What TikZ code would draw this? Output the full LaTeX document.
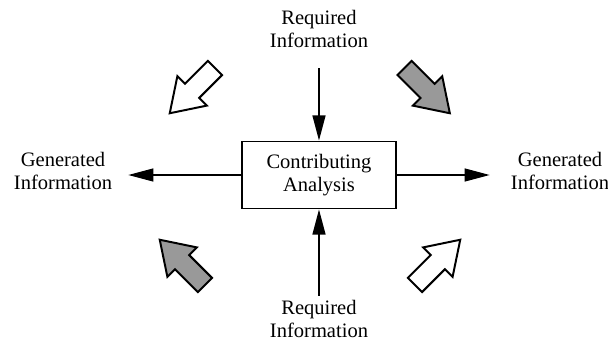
\documentclass[tikz,border=0pt]{standalone}
\usepackage{fontspec}
\setmainfont{Liberation Serif}
\usetikzlibrary{arrows.meta}
\definecolor{arrowgray}{RGB}{153,153,153}

% hollow block arrow: fill, tail x, tail y, angle
\newcommand*{\BlockArrow}[4]{%
   \begin{scope}[shift={(#2,#3)},rotate=#4]
     \filldraw[fill=#1, line width=1.4pt, line join=miter]
       (0,-0.25) -- (0.81,-0.25) -- (0.81,-0.52) -- (1.6,0)
       -- (0.81,0.52) -- (0.81,0.25) -- (0,0.25) -- cycle;
   \end{scope}}

\tikzset{
  infotext/.style={align=center, inner sep=0pt, font=\fontsize{14.6}{16.4}\selectfont},
  analysisbox/.style={draw, line width=1.4pt, align=center, minimum width=3.85cm,
    minimum height=1.675cm, font=\fontsize{14.6}{16.4}\selectfont},
  flow/.style={-{Triangle[length=17.8pt,width=9.2pt]}, line width=1pt}
}

\begin{document}
\begin{tikzpicture}
            \useasboundingbox (-7.975,-4.25) rectangle (7.225,4.375);
            \node[analysisbox] (analysis) at (0,0) {Contributing\\Analysis};
            \node[infotext] (reqtop) at (0,3.65) {Required\\Information};
            \node[infotext] (reqbot) at (0,-3.61) {Required\\Information};
            \node[infotext] (genleft) at (-6.4,0.1) {Generated\\Information};
            \node[infotext] (genright) at (6.025,0.1) {Generated\\Information};
            \draw[flow, shorten <=0.5cm] (reqtop.south) -- (analysis.north);
            \draw[flow, shorten <=0.115cm] (reqbot.north) -- (analysis.south);
            \draw[flow, shorten >=0.4cm] (analysis.west) -- (analysis.west -| genleft.east);
            \draw[flow, shorten >=0.525cm] (analysis.east) -- (analysis.east -| genright.west);
            \BlockArrow{white}{-2.6}{2.675}{225}
            \BlockArrow{arrowgray}{2.14}{2.675}{-45}
            \BlockArrow{arrowgray}{-2.85}{-2.75}{135}
            \BlockArrow{white}{2.4}{-2.75}{45}
          \end{tikzpicture}
\end{document}
